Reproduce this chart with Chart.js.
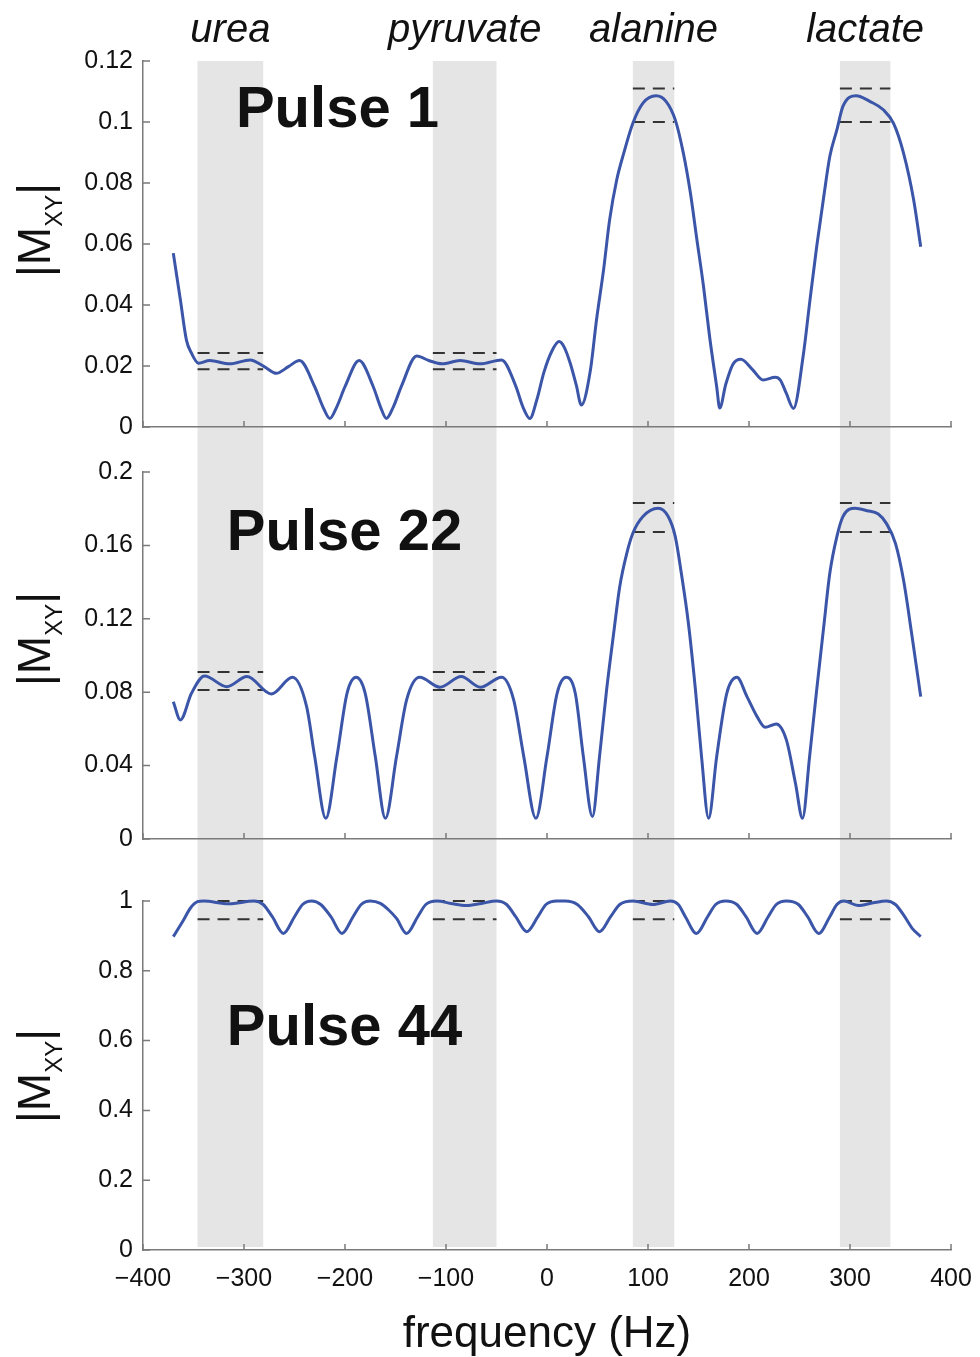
<!DOCTYPE html>
<html>
<head>
<meta charset="utf-8">
<script src="https://cdn.jsdelivr.net/npm/chart.js@4.4.1/dist/chart.umd.min.js"></script>
<style>
  html, body { margin: 0; padding: 0; background: #fff; }
  #wrap { position: relative; width: 980px; height: 1357px; }
  #wrap canvas { position: absolute; left: 0; }
</style>
</head>
<body>
<div id="wrap">
  <canvas id="pulse1" width="980" height="440" style="top:0px"></canvas>
  <canvas id="pulse22" width="980" height="420" style="top:440px"></canvas>
  <canvas id="pulse44" width="980" height="497" style="top:860px"></canvas>
</div>
<script>
// frequency offsets (Hz) and |Mxy|
var freq1 = [-370,-363,-357,-352,-345,-334,-314,-294,-280,-268,-256,-245,-230,-222,-215,-208,-200,-186,-172,-165,
  -159,-152,-144,-129,-117,-104,-86,-66,-45,-31,-24,-17,-10,-3,5,12,17,23,29,34,
  43,49,56,62,69,76,85,95,108,118,127,135,142,148,155,161,168,171,177,184,
  192,203,214,226,231,237,244,254,260,267,274,280,287,293,306,320,333,343,353,363,370];
var mag1 = [0.057,0.0417,0.0285,0.0242,0.0209,0.0218,0.0207,0.022,0.0198,0.0176,0.0198,0.0218,0.0132,0.0067,0.0028,0.0067,0.0132,0.0218,0.0132,0.0067,
  0.0028,0.0067,0.0135,0.0233,0.0218,0.0207,0.0218,0.0207,0.022,0.0135,0.0067,0.0028,0.009,0.018,0.025,0.028,0.0262,0.0209,0.0137,0.0072,
  0.0187,0.0351,0.0515,0.0679,0.081,0.0898,0.0996,0.1062,0.1086,0.1067,0.1007,0.0898,0.0767,0.0624,0.046,0.0296,0.0132,0.0062,0.014,0.0205,
  0.0222,0.019,0.0154,0.0163,0.0154,0.011,0.0061,0.0242,0.0406,0.0591,0.0755,0.0887,0.0974,0.1051,0.1086,0.1067,0.104,0.0996,0.0898,0.0745,0.0591];

var freq2 = [-370,-363,-352,-339,-317,-297,-273,-252,-238,-230,-219,-208,-198,-189,-180,-170,-160,-149,-139,-126,
  -106,-85,-66,-45,-33,-23,-11,0,10,19,28,36,45,52,59,66,72,79,85,95,
  110,120,127,133,140,147,153,160,168,178,188,198,208,216,227,237,246,253,260,267,
  274,280,287,293,305,317,328,336,345,353,361,370];
var mag2 = [0.0748,0.0649,0.0794,0.0888,0.083,0.0885,0.079,0.0881,0.0721,0.0449,0.0113,0.0449,0.0794,0.0881,0.0794,0.0449,0.0113,0.0449,0.0758,0.0881,
  0.0827,0.0885,0.0827,0.0881,0.0758,0.0449,0.0113,0.0449,0.0794,0.0881,0.0794,0.0449,0.0122,0.0449,0.0812,0.1121,0.1375,0.1557,0.1666,0.1757,
  0.1802,0.1757,0.1648,0.1448,0.1176,0.0812,0.0449,0.0113,0.0449,0.0794,0.0881,0.0776,0.0667,0.0609,0.0627,0.054,0.0304,0.0113,0.0449,0.0812,
  0.1157,0.1448,0.1648,0.1757,0.1802,0.1789,0.1771,0.172,0.1611,0.1411,0.1121,0.0776];

var freq3 = [-370,-360,-353,-346,-340,-315,-290,-281,-272,-261,-250,-242,-233,-224,-214,-203,-192,-184,-175,-165,
  -157,-149,-139,-128,-120,-109,-95,-80,-65,-50,-40,-31,-20,-9,-1,10,18,30,41,52,
  63,72,85,105,122,130,137,148,159,167,177,188,197,208,219,227,237,249,258,269,
  280,287,294,308,323,336,345,353,362,370];
var mag3 = [0.898,0.945,0.98,0.998,1.0,0.992,1.0,0.99,0.955,0.907,0.955,0.99,1.0,0.99,0.955,0.907,0.955,0.99,1.0,0.993,
  0.975,0.95,0.907,0.955,0.99,1.0,0.993,0.987,0.993,1.0,0.99,0.955,0.912,0.955,0.99,1.0,1.0,0.99,0.955,0.912,
  0.955,0.99,1.0,0.99,1.0,0.99,0.955,0.907,0.955,0.99,1.0,0.99,0.955,0.907,0.955,0.99,1.0,0.99,0.955,0.907,
  0.955,0.99,1.0,0.987,0.995,1.0,0.99,0.96,0.92,0.898];

// metabolite bands (Hz)
var bandNames = ['urea', 'pyruvate', 'alanine', 'lactate'];
var bandLo = [-346, -113, 85, 290];
var bandHi = [-281, -50, 126, 340];

// dashed target limits per band, per pulse
var dashLo1 = [0.0189, 0.0189, 0.100, 0.100];
var dashHi1 = [0.0243, 0.0243, 0.111, 0.111];
var dashLo2 = [0.0812, 0.0812, 0.1673, 0.1673];
var dashHi2 = [0.091, 0.091, 0.1831, 0.1831];
var dashLo3 = [0.9475, 0.9475, 0.9475, 0.9475];
var dashHi3 = [1.0, 1.0, 1.0, 1.0];

// ticks
var xTickVals = [-400, -300, -200, -100, 0, 100, 200, 300, 400];
var xTickLabels = ['\u2212400', '\u2212300', '\u2212200', '\u2212100', '0', '100', '200', '300', '400'];
var yTickVals1 = [0, 0.02, 0.04, 0.06, 0.08, 0.1, 0.12];
var yTickLabels1 = ['0', '0.02', '0.04', '0.06', '0.08', '0.1', '0.12'];
var yTickVals2 = [0, 0.04, 0.08, 0.12, 0.16, 0.2];
var yTickLabels2 = ['0', '0.04', '0.08', '0.12', '0.16', '0.2'];
var yTickVals3 = [0, 0.2, 0.4, 0.6, 0.8, 1];
var yTickLabels3 = ['0', '0.2', '0.4', '0.6', '0.8', '1'];

var FONT = '"Liberation Sans", Arial, Helvetica, sans-serif';
var curveColor = '#3b55a8';
var bandColor = '#e5e5e5';
var axisColor = '#7a7a7a';
var textColor = '#111';

Chart.defaults.font.family = FONT;
Chart.defaults.color = textColor;

function points(xs, ys) {
    return xs.map(function (x, i) { return {x: x, y: ys[i]}; });
}

function dashSets(lo, hi) {
    var sets = [];
    bandLo.forEach(function (l, i) {
        [lo[i], hi[i]].forEach(function (v) {
            sets.push({
                data: [{x: l, y: v}, {x: bandHi[i], y: v}],
                borderColor: '#333',
                borderWidth: 2,
                borderDash: [12, 8],
                pointRadius: 0,
                clip: false
            });
        });
    });
    return sets;
}

function drawMxy(ctx, xBase, yMid) {
    var big = '46px ' + FONT, small = '24px ' + FONT;
    ctx.save();
    ctx.translate(xBase, yMid);
    ctx.rotate(-Math.PI / 2);
    ctx.fillStyle = textColor;
    ctx.textAlign = 'left';
    ctx.textBaseline = 'alphabetic';
    ctx.font = big;
    var w1 = ctx.measureText('|M').width, w3 = ctx.measureText('|').width;
    ctx.font = small;
    var w2 = ctx.measureText('XY').width;
    var cx = -(w1 + w2 + w3) / 2;
    ctx.font = big; ctx.fillText('|M', cx, 0); cx += w1;
    ctx.font = small; ctx.fillText('XY', cx, 12); cx += w2;
    ctx.font = big; ctx.fillText('|', cx, 0);
    ctx.restore();
}

var panelDecor = {
    id: 'panelDecor',
    beforeDraw: function (chart, args, opts) {
        var ctx = chart.ctx, a = chart.chartArea, x = chart.scales.x;
        ctx.save();
        ctx.fillStyle = '#fff';
        ctx.fillRect(0, 0, chart.width, chart.height);
        var top = opts.bandFromArea ? a.top : 0;
        var bottom = opts.bandToArea ? a.bottom - 3 : chart.height;
        ctx.fillStyle = bandColor;
        bandLo.forEach(function (lo, i) {
            var l = x.getPixelForValue(lo), r = x.getPixelForValue(bandHi[i]);
            ctx.fillRect(l, top, r - l, bottom - top);
        });
        ctx.restore();
    },
    afterDraw: function (chart, args, opts) {
        var ctx = chart.ctx, a = chart.chartArea, x = chart.scales.x, y = chart.scales.y;
        ctx.save();
        // MATLAB-style inward ticks
        ctx.strokeStyle = axisColor;
        ctx.lineWidth = 1.5;
        ctx.beginPath();
        y.ticks.forEach(function (t) {
            var py = y.getPixelForValue(t.value);
            ctx.moveTo(a.left, py); ctx.lineTo(a.left + 7, py);
        });
        x.ticks.forEach(function (t) {
            var px = x.getPixelForValue(t.value);
            ctx.moveTo(px, a.bottom); ctx.lineTo(px, a.bottom - 6);
        });
        ctx.stroke();

        drawMxy(ctx, 50, y.getPixelForValue(opts.labelAt));

        ctx.fillStyle = textColor;
        ctx.textAlign = 'left';
        ctx.textBaseline = 'alphabetic';
        ctx.font = 'bold 58px ' + FONT;
        ctx.fillText(opts.pulse, x.getPixelForValue(opts.pulseX), y.getPixelForValue(opts.pulseY));

        if (opts.names) {
            ctx.font = 'italic 40px ' + FONT;
            ctx.textAlign = 'center';
            bandNames.forEach(function (n, i) {
                ctx.fillText(n, x.getPixelForValue((bandLo[i] + bandHi[i]) / 2), a.top - 19);
            });
        }
        ctx.restore();
    }
};

function makePanel(id, o) {
    return new Chart(document.getElementById(id), {
        type: 'line',
        data: {
            datasets: [{
                data: points(o.xs, o.ys),
                borderColor: curveColor,
                borderWidth: 3,
                pointRadius: 0,
                cubicInterpolationMode: 'monotone',
                clip: false
            }].concat(dashSets(o.dashLo, o.dashHi))
        },
        options: {
            responsive: false,
            animation: false,
            devicePixelRatio: 1,
            layout: { padding: { top: o.top, right: 29, bottom: 0, left: 0 } },
            plugins: {
                legend: { display: false },
                tooltip: { enabled: false },
                panelDecor: {
                    bandFromArea: o.bandFromArea,
                    bandToArea: o.bandToArea,
                    names: o.names,
                    pulse: o.pulse,
                    pulseX: o.pulseX,
                    pulseY: o.pulseY,
                    labelAt: o.labelAt
                }
            },
            scales: {
                x: {
                    type: 'linear',
                    min: -400,
                    max: 400,
                    afterBuildTicks: function (s) { s.ticks = xTickVals.map(function (v) { return {value: v}; }); },
                    afterFit: function (s) {
                        s.height = o.xHeight;
                        s.paddingLeft = 0;
                        s.paddingRight = 0;
                    },
                    grid: { display: false, drawTicks: false },
                    border: { color: axisColor, width: 1.5 },
                    ticks: {
                        display: o.xLabels,
                        padding: 14,
                        maxRotation: 0,
                        font: { size: 25 },
                        callback: function (v, i) { return xTickLabels[i]; }
                    },
                    title: {
                        display: o.xLabels,
                        text: 'frequency (Hz)',
                        font: { size: 44 },
                        padding: { top: 0, bottom: -4 }
                    }
                },
                y: {
                    min: 0,
                    max: o.ymax,
                    afterBuildTicks: function (s) { s.ticks = o.yTicks.map(function (v) { return {value: v}; }); },
                    afterFit: function (s) {
                        s.width = 143;
                        s.paddingTop = 0;
                        s.paddingBottom = 0;
                    },
                    grid: { display: false, drawTicks: false },
                    border: { color: axisColor, width: 1.5 },
                    ticks: {
                        padding: 10,
                        font: { size: 25 },
                        callback: function (v, i) { return o.yLabels[i]; }
                    }
                }
            }
        },
        plugins: [panelDecor]
    });
}

var chart_pulse1 = makePanel('pulse1', {
    xs: freq1, ys: mag1, dashLo: dashLo1, dashHi: dashHi1,
    ymax: 0.12, yTicks: yTickVals1, yLabels: yTickLabels1,
    top: 61, xHeight: 13, xLabels: false,
    bandFromArea: true, bandToArea: false, names: true,
    pulse: 'Pulse 1', pulseX: -308, pulseY: 0.0984, labelAt: 0.0646
});

var chart_pulse22 = makePanel('pulse22', {
    xs: freq2, ys: mag2, dashLo: dashLo2, dashHi: dashHi2,
    ymax: 0.2, yTicks: yTickVals2, yLabels: yTickLabels2,
    top: 32, xHeight: 21, xLabels: false,
    bandFromArea: false, bandToArea: false, names: false,
    pulse: 'Pulse 22', pulseX: -317, pulseY: 0.1575, labelAt: 0.109
});

var chart_pulse44 = makePanel('pulse44', {
    xs: freq3, ys: mag3, dashLo: dashLo3, dashHi: dashHi3,
    ymax: 1, yTicks: yTickVals3, yLabels: yTickLabels3,
    top: 41, xHeight: 107, xLabels: true,
    bandFromArea: false, bandToArea: true, names: false,
    pulse: 'Pulse 44', pulseX: -317, pulseY: 0.587, labelAt: 0.4986
});
</script>
</body>
</html>
